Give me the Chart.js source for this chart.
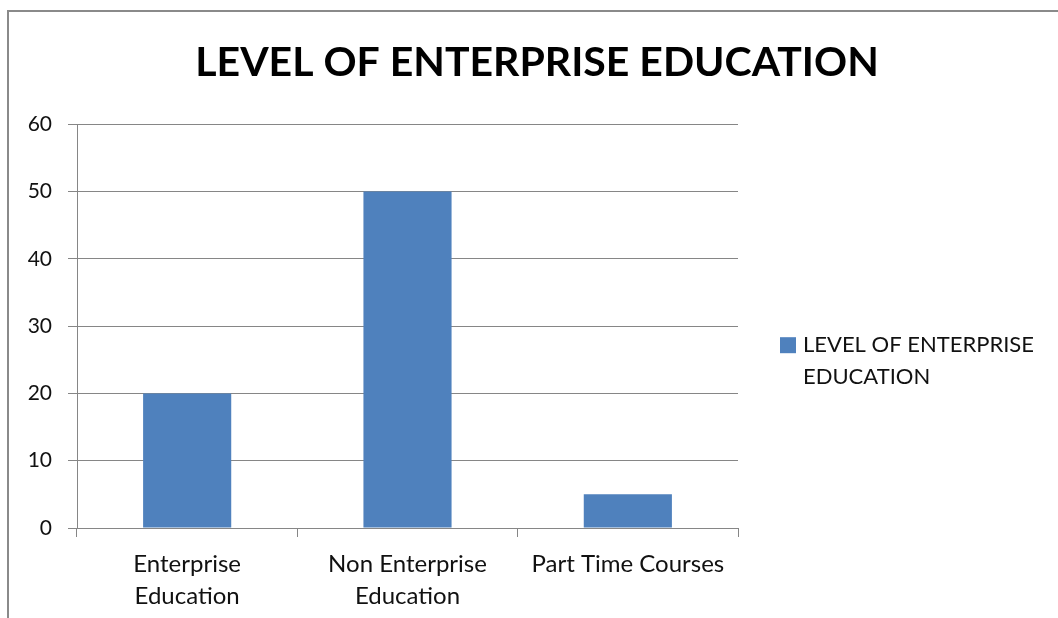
<!DOCTYPE html>
<html>
<head>
<meta charset="utf-8">
<script src="https://cdn.jsdelivr.net/npm/chart.js@4.4.0/dist/chart.umd.min.js"></script>
<style>
  html, body { margin: 0; padding: 0; background: #fff; }
  #frame { position: absolute; left: 7px; top: 10px; width: 1100px; height: 700px;
           border-left: 2px solid #8a8a8a; border-top: 2px solid #8a8a8a; }
  #wrap { position: absolute; left: 0; top: 0; width: 1058px; height: 618px; }
</style>
</head>
<body>
<div id="frame"></div>
<div id="wrap"><canvas id="chart"></canvas></div>
<script>
const chartTitle = 'LEVEL OF ENTERPRISE EDUCATION';
const categories = [['Enterprise', 'Education'], ['Non Enterprise', 'Education'], 'Part Time Courses'];
const seriesName = 'LEVEL OF ENTERPRISE EDUCATION';
const seriesValues = [20, 50, 5];
const yTicks = [0, 10, 20, 30, 40, 50, 60];

const FONT = 'Lato, "Open Sans", sans-serif';
const GRID = '#868686';

// legend drawn by hand so the long label can wrap onto two lines
const wrappedLegend = {
    id: 'wrappedLegend',
    afterDraw(chart) {
        const ctx = chart.ctx;
        const area = chart.chartArea;
        const ds = chart.data.datasets[0];
        const x = area.right + 42;
        const y = area.top + 213;
        ctx.save();
        ctx.fillStyle = ds.backgroundColor;
        ctx.fillRect(x, y, 16, 16);
        ctx.fillStyle = '#111';
        ctx.font = '22px ' + FONT;
        ctx.textBaseline = 'middle';
        ctx.textAlign = 'left';
        const words = ds.label.split(' ');
        const lines = [words.slice(0, 3).join(' '), words.slice(3).join(' ')];
        lines.forEach((line, i) => ctx.fillText(line, x + 23, y + 8 + i * 32));
        ctx.restore();
    }
};

new Chart(document.getElementById('chart'), {
    type: 'bar',
    data: {
        labels: categories,
        datasets: [{
            label: seriesName,
            data: seriesValues,
            backgroundColor: '#4F81BD',
            borderWidth: 0,
            barPercentage: 0.4,
            categoryPercentage: 1
        }]
    },
    options: {
        responsive: true,
        maintainAspectRatio: false,
        animation: false,
        layout: { padding: { left: 16, right: 0, top: 0, bottom: 0 } },
        plugins: {
            legend: { display: false },
            tooltip: { enabled: false },
            title: {
                display: true,
                text: chartTitle,
                color: '#000',
                font: { family: FONT, size: 41, weight: 'bold' },
                padding: { top: 38, bottom: 37 }
            }
        },
        scales: {
            x: {
                grid: { display: true, drawOnChartArea: false, drawTicks: true, tickLength: 9, color: GRID },
                border: { display: true, color: GRID },
                ticks: {
                    color: '#111',
                    font: { family: FONT, size: 24, lineHeight: 1.33 },
                    padding: 11,
                    maxRotation: 0,
                    autoSkip: false
                },
                afterFit(scale) { scale.height = 90; }
            },
            y: {
                min: 0,
                max: 60,
                afterBuildTicks(scale) { scale.ticks = yTicks.map(v => ({ value: v })); },
                grid: { color: GRID, tickLength: 9, drawTicks: true },
                border: { display: true, color: GRID },
                ticks: {
                    color: '#111',
                    font: { family: FONT, size: 21 },
                    padding: 16
                },
                afterFit(scale) { scale.width = 61; }
            },
            spacer: {
                position: 'right',
                display: true,
                grid: { display: false },
                border: { display: false },
                ticks: { display: false },
                afterFit(scale) { scale.width = 320; }
            }
        }
    },
    plugins: [wrappedLegend]
});
</script>
</body>
</html>
